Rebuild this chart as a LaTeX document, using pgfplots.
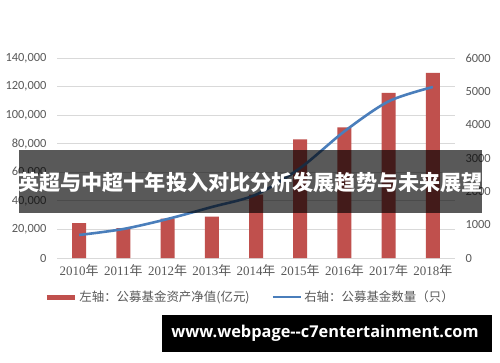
\documentclass[border=0pt]{standalone}
\usepackage{fontspec}
\usepackage{pgfplots}
\pgfplotsset{compat=1.18}
\setmainfont{Carlito}
\newfontfamily\cjk{Noto Sans CJK SC}
\newfontfamily\serifx{Liberation Serif}
\newfontfamily\wm{Open Sans}
\definecolor{barred}{HTML}{C0504D}
\definecolor{lineblue}{HTML}{4A7EBB}
\definecolor{txtgray}{HTML}{595959}
\definecolor{gridgray}{HTML}{D9D9D9}
\newcommand{\yr}[1]{{\serifx #1}{\cjk 年}}
\begin{document}
\begin{tikzpicture}[x=1bp,y=1bp]
\path[fill=white] (0,0) rectangle (500,362);
\begin{axis}[
  at={(57bp,104bp)}, anchor=south west, scale only axis,
  width=398bp, height=200bp,
  xmin=-0.5, xmax=8.5, ymin=0, ymax=140000,
  xtick={0,...,8},
  xticklabels={\yr{2010},\yr{2011},\yr{2012},\yr{2013},\yr{2014},\yr{2015},\yr{2016},\yr{2017},\yr{2018}},
  ytick={0,20000,40000,60000,80000,100000,120000,140000},
  yticklabels={0,{20,000},{40,000},{60,000},{80,000},{100,000},{120,000},{140,000}},
  ymajorgrids, grid style={gridgray, line width=0.9bp},
  axis line style={draw=none}, major tick style={draw=none},
  scaled y ticks=false,
  yticklabel style={font=\fontsize{12.5}{14}\selectfont, text=txtgray, xshift=-7bp},
  xticklabel style={font=\fontsize{13}{15}\selectfont, text=txtgray, yshift=-3bp},
]
\addplot[ybar, bar width=14bp, fill=barred, draw=none] coordinates {
(0,24500) (1,21000) (2,27500) (3,29000) (4,44400) (5,83000) (6,91500) (7,115500) (8,129500)};
\end{axis}
\begin{axis}[
  at={(57bp,104bp)}, anchor=south west, scale only axis,
  width=398bp, height=200bp,
  xmin=-0.5, xmax=8.5, ymin=0, ymax=6000,
  axis x line=none, axis y line*=right,
  y axis line style={draw=none}, major tick style={draw=none},
  ytick={0,1000,2000,3000,4000,5000,6000},
  yticklabels={0,1000,2000,3000,4000,5000,6000},
  scaled y ticks=false,
  yticklabel style={font=\fontsize{12.5}{14}\selectfont, text=txtgray, xshift=7bp},
  legend style={at={(0.485,-0.195)}, anchor=center, draw=none, fill=none,
    legend columns=2, font=\cjk\fontsize{12.5}{14}\selectfont, text=txtgray,
    /tikz/every even column/.append style={column sep=20bp}},
  legend image code/.code={\draw[#1] (0bp,0bp) -- (28bp,0bp);},
]
\addlegendimage{barred, line width=5bp}
\addlegendentry{左轴：公募基金资产净值(亿元)}
\addplot[lineblue, line width=2.6bp, smooth] coordinates {
(0,690) (1,870) (2,1170) (3,1530) (4,1900) (5,2700) (6,3800) (7,4700) (8,5130)};
\addlegendentry{右轴：公募基金数量（只）}
\end{axis}
\fill[black, opacity=0.65] (19,149) rectangle (482,212);
\node[text=white, inner sep=0pt, font=\cjk\bfseries\fontsize{21.2}{24}\selectfont] at (250.5,180) {英超与中超十年投入对比分析发展趋势与未来展望};
\fill[black] (162,10) rectangle (492,47);
\node[text=white, inner sep=0pt, font=\wm\bfseries\fontsize{16.4}{18}\selectfont] at (325,28.5) {www.webpage-\kern0pt-c7entertainment.com};
\pgfresetboundingbox
\path[use as bounding box] (0,0) rectangle (500,362);
\end{tikzpicture}
\end{document}
